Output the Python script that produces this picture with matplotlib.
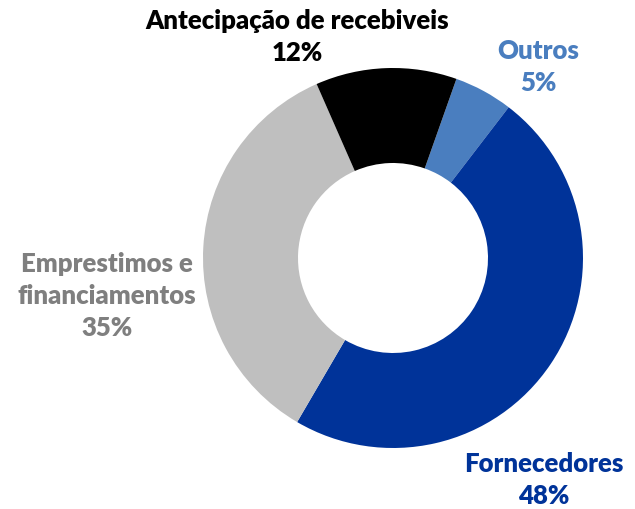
import matplotlib.pyplot as plt

# data (clockwise from the top-right)
categories = ["Outros", "Fornecedores", "Emprestimos e\nfinanciamentos", "Antecipação de recebiveis"]
shares = [5, 48, 35, 12]
colors = ["#4A7EBF", "#003399", "#BFBFBF", "#000000"]
label_colors = ["#4A7EBF", "#003399", "#7F7F7F", "#000000"]

W, H = 635, 509
fig = plt.figure(figsize=(W / 100, H / 100), dpi=100)
ax = fig.add_axes([0, 0, 1, 1])

cx, cy, r = 393, H - 258, 190
ax.pie(shares, colors=colors, radius=r, center=(cx, cy), startangle=90 - 19.5,
       counterclock=False, wedgeprops=dict(width=r * 0.5, linewidth=0), frame=True)
ax.set_xlim(0, W)
ax.set_ylim(0, H)
ax.set_aspect("equal")
ax.axis("off")

# label positions in pixel coords (top-left origin)
label_pos = [(538, 67), (544, 480), (107, 296), (297, 37)]
for cat, val, col, (px, py) in zip(categories, shares, label_colors, label_pos):
    ax.text(px, H - py, f"{cat}\n{val}%", ha="center", va="center", color=col,
            fontsize=18.5, fontweight="heavy", family="Lato", linespacing=1.4)

fig.savefig("out.png", dpi=100)
